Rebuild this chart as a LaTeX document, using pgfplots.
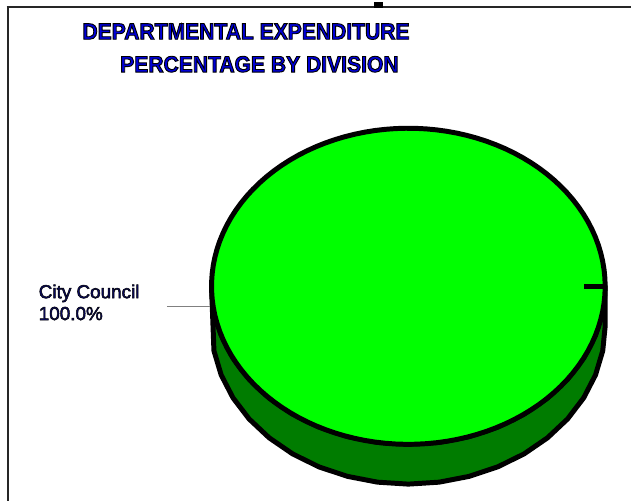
\documentclass[border=0pt]{standalone}
\usepackage{pgfplots}
\usepackage{pgfplotstable}
\pgfplotsset{compat=1.18}
\usepackage{fontspec}
\setmainfont{Liberation Sans}
\newfontfamily\titlefont[FakeStretch=0.93]{Liberation Sans Bold}

\definecolor{topgreen}{RGB}{0,255,0}
\definecolor{sidegreen}{RGB}{0,124,0}
\definecolor{titleblue}{RGB}{0,0,215}
\definecolor{labelnavy}{RGB}{10,10,95}

% share of each division (percent)
\pgfplotstableread{
division pct
CityCouncil 100.0
}\piedata

% text drawn with a dark outline (fill + stroke render mode)
\newcommand\outlined[2]{\special{pdf:literal 2 Tr #1 w 0 0 0 RG}#2\special{pdf:literal 0 Tr}}

\begin{document}
\pgfplotstablegetelem{0}{pct}\of\piedata
\pgfmathsetmacro\sliceangle{3.6*\pgfplotsretval}
\begin{tikzpicture}
\begin{axis}[
  width=632pt, height=504pt, scale only axis,
  xmin=0, xmax=632, ymin=0, ymax=504, y dir=reverse,
  ticks=none, axis line style={draw=none},
  clip=false,
]
% frame
\addplot[line width=2pt, black!85, mark=none] coordinates {(4,7) (632,7)};
\addplot[line width=2pt, black!85, mark=none] coordinates {(5,7) (5,504)};
\addplot[fill=black, draw=none, mark=none] coordinates {(373,2) (383,2) (383,8) (373,8)} -- cycle;

% side of the pie (lower half, depth 40)
\addplot[fill=sidegreen, draw=black, line width=5pt, line join=round,
  domain=0:2, samples=41, variable=\t, mark=none]
  ({408+198*cos(180*min(\t,2-\t))}, {288+40*(\t>1)+159*sin(180*min(\t,2-\t))}) -- cycle;

% top of the pie
\addplot[fill=topgreen, draw=black, line width=5pt, line join=round,
  domain=0:\sliceangle, samples=120, mark=none]
  ({408+198*cos(x)}, {288+159*sin(x)}) -- cycle;
\addplot[black, line width=5pt, mark=none] coordinates {(585,288) (606,288)};

% leader line and label
\addplot[gray, line width=1.2pt, mark=none] coordinates {(165,308) (208,308)};
\node[anchor=base west, inner sep=0pt, text=labelnavy, font=\fontsize{19}{22}\selectfont]
  at (axis cs:36,300) {\outlined{0.5}{City Council}};
\node[anchor=base west, inner sep=0pt, text=labelnavy, font=\fontsize{19}{22}\selectfont]
  at (axis cs:36,322) {\outlined{0.5}{100.0\%}};

% title
\node[anchor=base west, inner sep=0pt, text=titleblue, font=\titlefont\fontsize{22.8}{26}\selectfont]
  at (axis cs:80,39.5) {\outlined{0.9}{DEPARTMENTAL EXPENDITURE}};
\node[anchor=base west, inner sep=0pt, text=titleblue, font=\titlefont\fontsize{22.8}{26}\selectfont]
  at (axis cs:118,72.5) {\outlined{0.9}{PERCENTAGE BY DIVISION}};
\end{axis}
\end{tikzpicture}
\end{document}
